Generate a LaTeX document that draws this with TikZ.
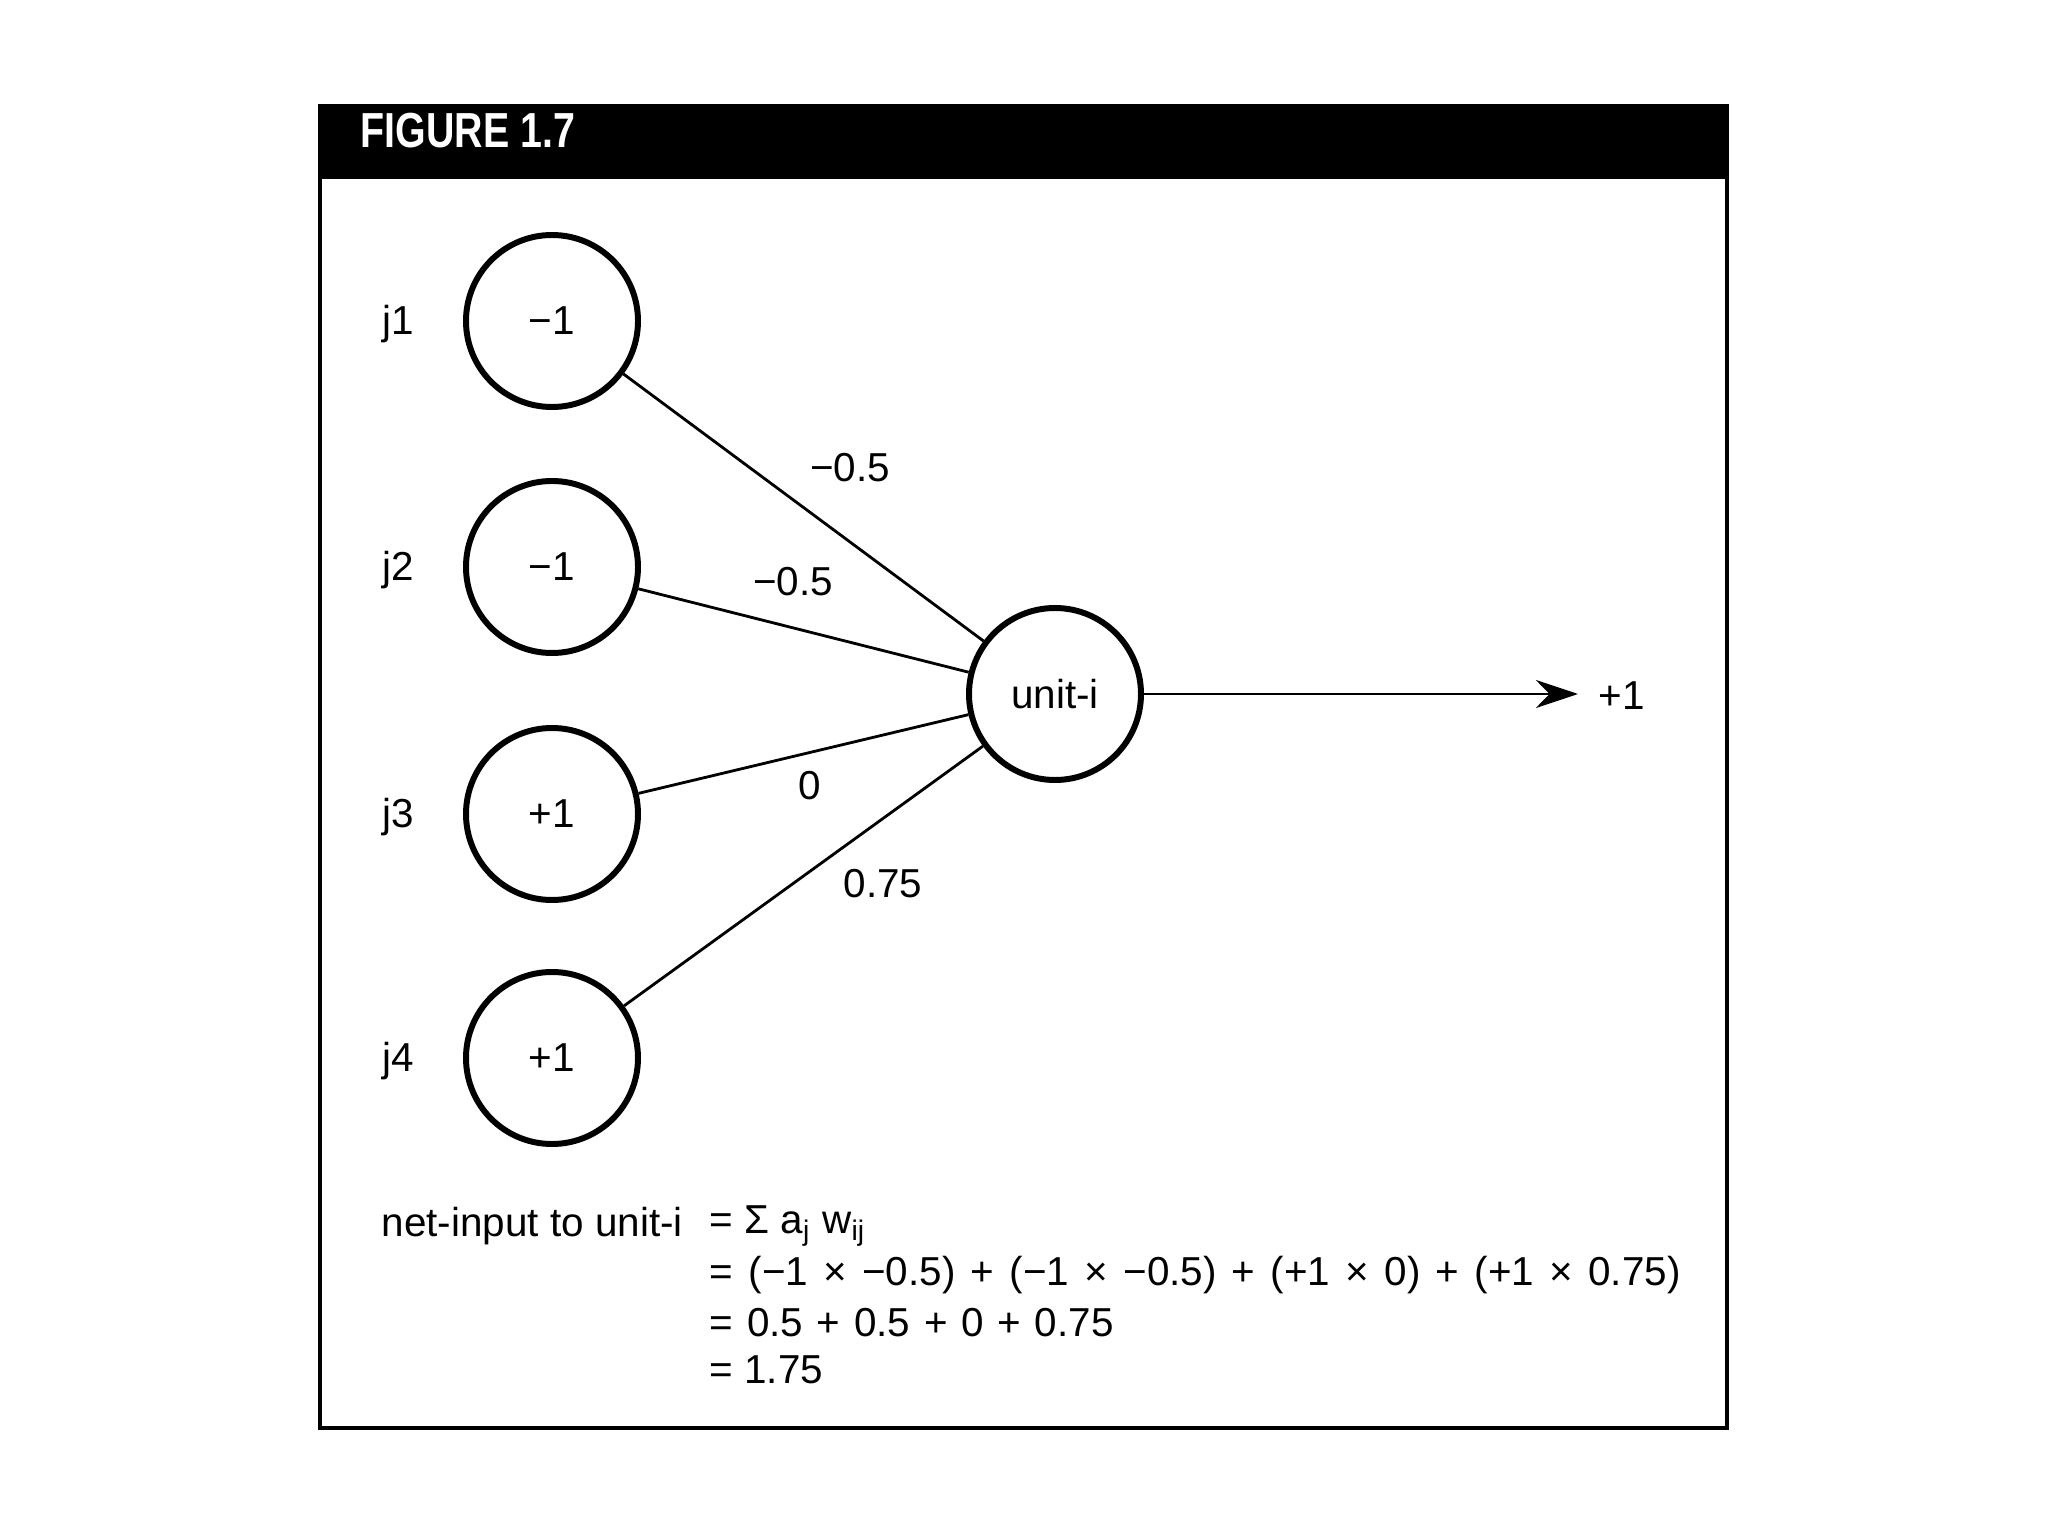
\documentclass[tikz,border=0pt]{standalone}
\usepackage{fontspec}
\setmainfont{Liberation Sans}
\usepackage{graphicx}
\usetikzlibrary{arrows.meta}

\tikzset{
  unit/.style={circle,draw,line width=1.7pt,minimum size=1.72cm,inner sep=0pt,font=\fontsize{11.5}{13}\selectfont},
  wlink/.style={line width=0.8pt},
  lbl/.style={inner sep=0pt,font=\fontsize{11.5}{13}\selectfont},
}

\begin{document}
\begin{tikzpicture}[>=Stealth]
    \useasboundingbox (0,0) rectangle (20.48,-15.36);
    % frame and header band
    \draw[line width=0.9pt] (3.20,-1.06) rectangle (17.27,-14.28);
    \fill (3.20,-1.06) rectangle (17.27,-1.79);
    \node[lbl,anchor=west,text=white,font=\bfseries\fontsize{14}{16}\selectfont] (title) at (3.60,-1.31) {\scalebox{0.8}[1]{FIGURE 1.7}};

    % input units
    \node[unit] (j1) at (5.52,-3.21) {−1};
    \node[unit] (j2) at (5.52,-5.67) {−1};
    \node[unit] (j3) at (5.52,-8.14) {+1};
    \node[unit] (j4) at (5.52,-10.58) {+1};
    \node[lbl] (n1) at (3.98,-3.24) {j1};
    \node[lbl] (n2) at (3.98,-5.70) {j2};
    \node[lbl] (n3) at (3.98,-8.17) {j3};
    \node[lbl] (n4) at (3.98,-10.61) {j4};

    % receiving unit
    \node[unit] (ui) at (10.55,-6.94) {unit-i};
    \draw[wlink] (j1) -- (ui);
    \draw[wlink] (j2) -- (ui);
    \draw[wlink] (j3) -- (ui);
    \draw[wlink] (j4) -- (ui);
    \node[lbl] (w1) at (8.50,-4.68) {−0.5};
    \node[lbl] (w2) at (7.93,-5.82) {−0.5};
    \node[lbl] (w3) at (8.10,-7.86) {0};
    \node[lbl] (w4) at (8.83,-8.84) {0.75};

    % output
    \coordinate (out) at (15.78,-6.94);
    \draw[wlink,-{Stealth[length=12pt,width=8pt]}] (ui) -- (out);
    \node[lbl,anchor=west] (o) at (15.98,-6.96) {+1};

    % net input
    \node[lbl,anchor=west] (net) at (3.81,-12.26) {net-input to unit-i};
    \node[lbl,anchor=west] (e1) at (7.09,-12.26) {= Σ a\textsubscript{j} w\textsubscript{ij}};
    \node[lbl,anchor=west] (e2) at (7.09,-12.75) {\spaceskip=4.35pt = (−1 × −0.5) + (−1 × −0.5) + (+1 × 0) + (+1 × 0.75)};
    \node[lbl,anchor=west] (e3) at (7.09,-13.23) {\spaceskip=3.9pt = 0.5 + 0.5 + 0 + 0.75};
    \node[lbl,anchor=west] (e4) at (7.09,-13.70) {= 1.75};
\end{tikzpicture}
\end{document}
